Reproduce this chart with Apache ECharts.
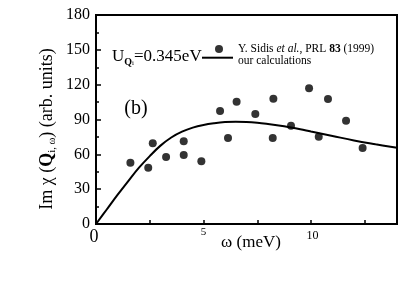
<!DOCTYPE html>
<html>
<head>
<meta charset="utf-8">
<script src="https://cdn.jsdelivr.net/npm/echarts@6/dist/echarts.min.js"></script>
<style>html,body{margin:0;padding:0;background:#fff;}#c{width:420px;height:285px;}</style>
</head>
<body>
<div id="c"></div>
<script>
// Measured data (Y. Sidis et al.)
var expOmega = [1.60, 2.43, 2.64, 3.26, 4.08, 4.08, 4.90, 5.77, 6.14, 6.54, 7.41, 8.25, 8.22, 9.07, 9.91, 10.79, 10.36, 11.63, 12.40];
var expChi   = [52.8, 48.5, 69.5, 57.7, 71.2, 59.4, 54.0, 97.3, 74.1, 105.3, 94.7, 107.9, 74.1, 84.7, 116.9, 107.7, 75.2, 89.0, 65.5];
// Calculated curve
var calcOmega = [0, 0.5, 1, 1.5, 2, 2.5, 3, 3.5, 4, 4.5, 5, 5.5, 6, 6.5, 7, 7.5, 8, 8.5, 9, 9.5, 10, 11, 12, 13, 14];
var calcChi   = [0, 12.5, 25, 37, 48.5, 58.5, 67.5, 74.5, 79.5, 83, 85.3, 86.8, 87.8, 88.1, 87.9, 87.2, 86.1, 84.8, 83.3, 81.6, 79.6, 75.8, 72.0, 68.7, 65.6];
// Ticks
var xLabelValues = [0, 5, 10];
var yTicks = [0, 30, 60, 90, 120, 150, 180];

var FONT = '"Liberation Serif", "Times New Roman", serif';
var expName = 'Y. Sidis et al., PRL 83 (1999)';
var calcName = 'our calculations';

var chart = echarts.init(document.getElementById('c'), null, {renderer: 'canvas'});
var option = {
  backgroundColor: '#fff',
  animation: false,
  textStyle: {fontFamily: FONT, color: '#000'},
  grid: {left: 96, right: 23, top: 15, bottom: 61, show: true, borderColor: '#000', borderWidth: 2, backgroundColor: 'transparent'},
  xAxis: {
    type: 'value', min: 0, max: 14, interval: 2.5,
    name: 'ω (meV)', nameLocation: 'middle', nameGap: 10, nameMoveOverlap: false,
    nameTextStyle: {fontFamily: FONT, fontSize: 17, color: '#000', padding: [0, 0, 0, 9]},
    axisLine: {show: true, lineStyle: {color: '#000', width: 2}},
    axisTick: {show: true, inside: true, length: 4, lineStyle: {color: '#000', width: 1.5}},
    splitLine: {show: false},
    axisLabel: {
      customValues: xLabelValues, margin: 3, color: '#000', fontFamily: FONT,
      formatter: function (v) {
        if (v === 0) return '{z|0}';
        if (v === 5) return '{f|5}';
        return '{t|' + v + '}';
      },
      rich: {
        z: {fontSize: 18, fontFamily: FONT, color: '#000', padding: [1, 4, 0, 0]},
        f: {fontSize: 11, fontFamily: FONT, color: '#000', padding: [0, 0, 0, 0]},
        t: {fontSize: 12, fontFamily: FONT, color: '#000', padding: [3, 0, 0, 3]}
      }
    }
  },
  yAxis: {
    type: 'value', min: 0, max: 180, interval: 30,
    axisLine: {show: true, lineStyle: {color: '#000', width: 2}},
    axisTick: {show: true, inside: true, length: 5, lineStyle: {color: '#000', width: 1.5}},
    minorTick: {show: true, splitNumber: 2, length: 3, lineStyle: {color: '#000', width: 1.5}},
    splitLine: {show: false},
    axisLabel: {margin: 6, fontSize: 16, fontFamily: FONT, color: '#000',
      formatter: function (v) { return yTicks.indexOf(v) >= 0 ? String(v) : ''; }}
  },
  legend: [
    {
      data: [expName], left: 215, top: 43, padding: 0, itemWidth: 8, itemHeight: 8, icon: 'circle',
      selectedMode: false,
      formatter: function () { return '{p|Y. Sidis }{it|et al.}{n|, PRL }{b|83}{n| (1999)}'; },
      textStyle: {fontFamily: FONT, fontSize: 11.5, color: '#000',
        rich: {
          p: {fontFamily: FONT, fontSize: 11.5, color: '#000', padding: [0, 0, 0, 10]},
          n: {fontFamily: FONT, fontSize: 11.5, color: '#000'},
          it: {fontFamily: FONT, fontSize: 11.5, fontStyle: 'italic', color: '#000'},
          b: {fontFamily: FONT, fontSize: 11.5, fontWeight: 'bold', color: '#000'}
        }}
    },
    {
      data: [calcName], left: 202, top: 48.7, padding: 0, itemWidth: 31, itemHeight: 2, icon: 'rect',
      selectedMode: false,
      formatter: function (name) { return '{s|}{d|' + name + '}'; },
      textStyle: {fontFamily: FONT, fontSize: 11.5, color: '#000',
        rich: {
          s: {width: 0, height: 18, lineHeight: 18},
          d: {fontFamily: FONT, fontSize: 11.5, lineHeight: 12, verticalAlign: 'bottom', color: '#000'}
        }}
    }
  ],
  graphic: [
    {
      type: 'text', x: 112, y: 57,
      style: {
        text: '{u|U}{q|Q}{i|i}{u|=0.345eV}',
        verticalAlign: 'middle', align: 'left',
        rich: {
          u: {fontFamily: FONT, fontSize: 17, lineHeight: 20, fill: '#000'},
          q: {fontFamily: FONT, fontSize: 10, fontWeight: 'bold', lineHeight: 10, verticalAlign: 'bottom', fill: '#000'},
          i: {fontFamily: FONT, fontSize: 7, lineHeight: 3, verticalAlign: 'bottom', fill: '#000'}
        }
      }
    },
    {
      type: 'text', x: 136, y: 109,
      style: {text: '(b)', fontFamily: FONT, fontSize: 20, fill: '#000', align: 'center', verticalAlign: 'middle'}
    },
    {
      type: 'text', x: 47, y: 129, rotation: Math.PI / 2,
      style: {
        text: '{n|Im χ (}{q|Q}{s|i, ω}{n|) (arb. units)}',
        align: 'center', verticalAlign: 'middle',
        rich: {
          n: {fontFamily: FONT, fontSize: 18, lineHeight: 21, fill: '#000'},
          q: {fontFamily: FONT, fontSize: 18, fontWeight: 'bold', lineHeight: 21, fill: '#000'},
          s: {fontFamily: FONT, fontSize: 10.5, lineHeight: 12, verticalAlign: 'bottom', fill: '#000'}
        }
      }
    }
  ],
  series: [
    {
      name: expName, type: 'scatter', symbol: 'circle', symbolSize: 8,
      itemStyle: {color: '#000'},
      data: expOmega.map(function (x, i) { return [x, expChi[i]]; }),
      z: 3
    },
    {
      name: calcName, type: 'line', symbol: 'none', showSymbol: false, smooth: 0.4,
      lineStyle: {color: '#000', width: 2}, itemStyle: {color: '#000'},
      data: calcOmega.map(function (x, i) { return [x, calcChi[i]]; }),
      z: 2
    }
  ]
};
chart.setOption(option);
</script>
</body>
</html>
